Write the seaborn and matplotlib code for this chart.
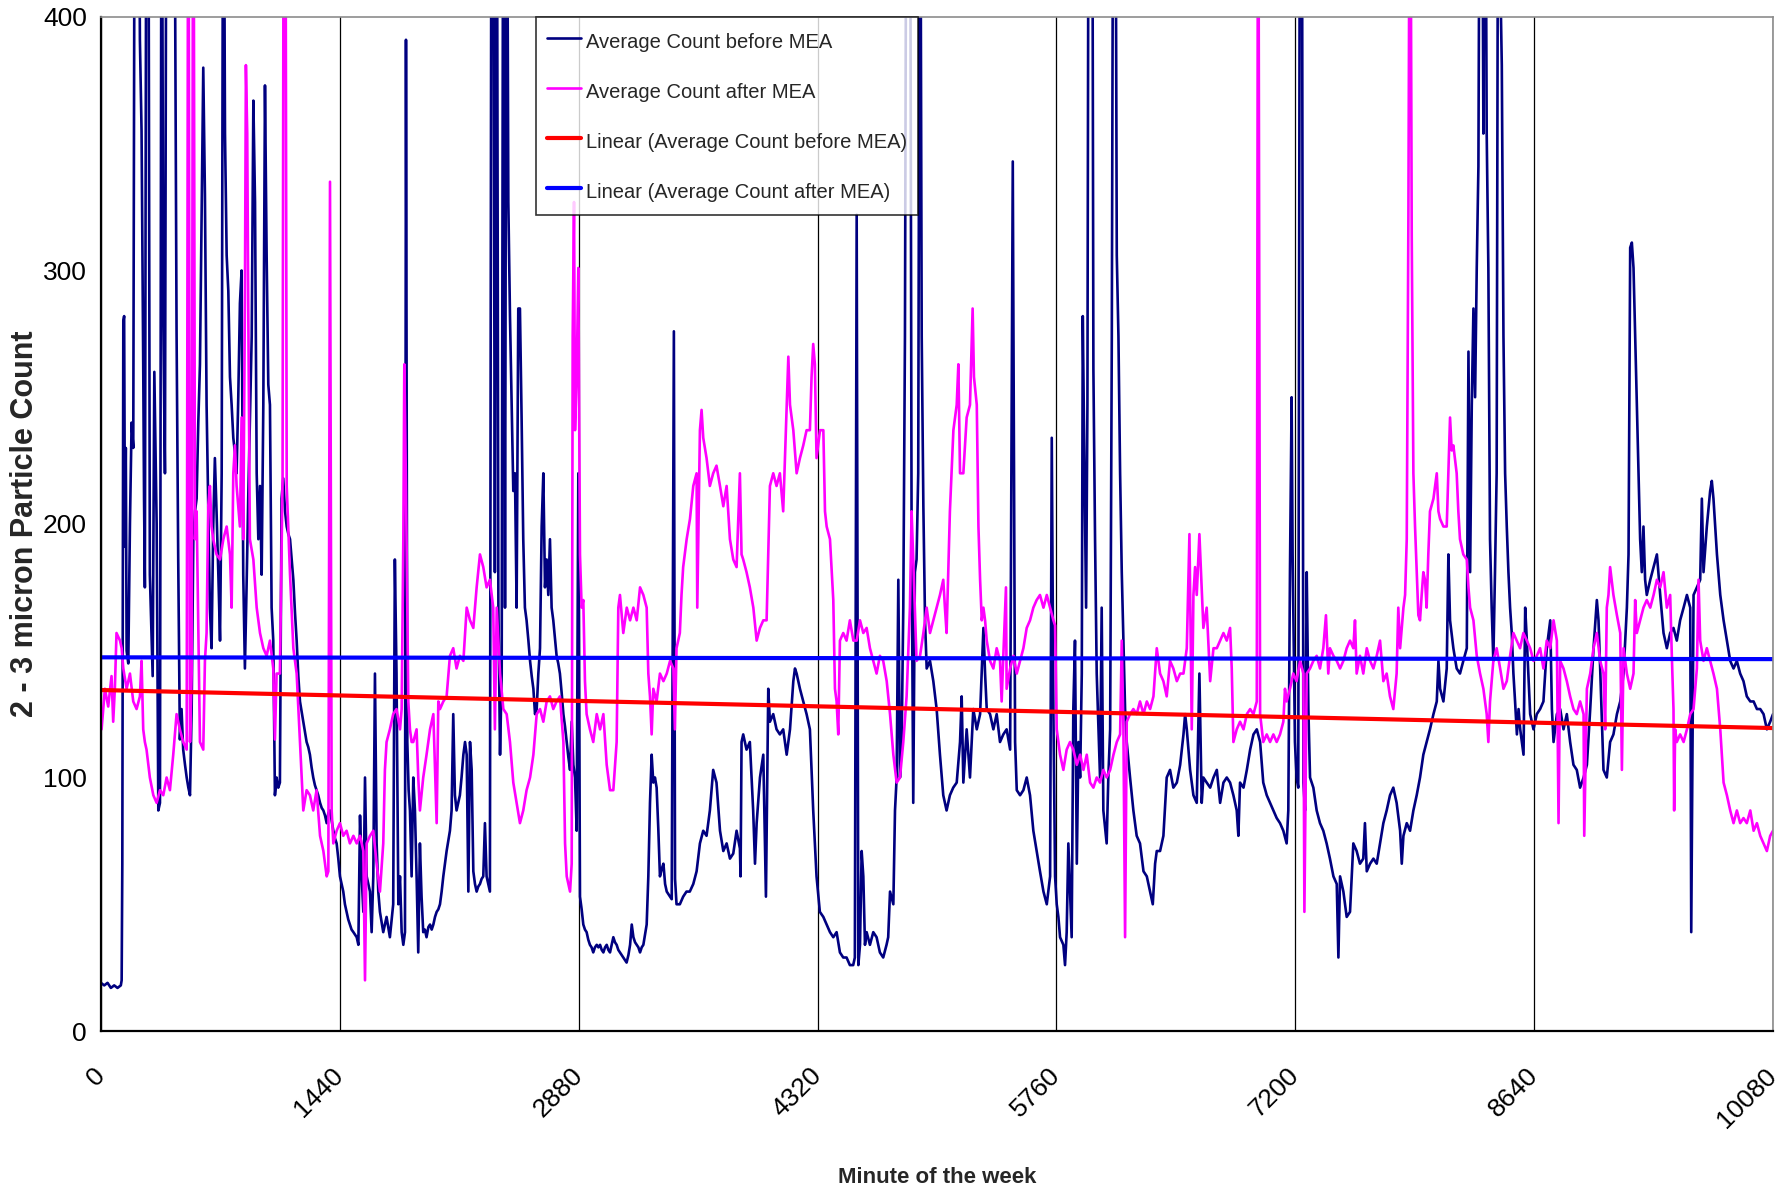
import numpy as np
import pandas as pd
import matplotlib
matplotlib.use("Agg")
import matplotlib.pyplot as plt
import seaborn as sns

# %% datos (minuto de la semana, conteo 2-3 micras)
before_minute = [
    0, 20, 40, 60, 80, 100, 120, 125, 129, 135,
    140, 145, 150, 155, 165, 175, 185, 195, 205, 215,
    225, 235, 245, 255, 260, 265, 275, 285, 291, 295,
    312, 322, 336, 346, 356, 366, 376, 386, 396, 420,
    440, 456, 466, 476, 486, 496, 507, 517, 527, 537,
    547, 557, 567, 577, 587, 597, 607, 617, 627, 637,
    647, 657, 667, 677, 687, 697, 708, 718, 728, 738,
    748, 758, 768, 778, 788, 798, 808, 818, 828, 838,
    848, 858, 868, 878, 888, 898, 909, 919, 929, 939,
    949, 959, 969, 979, 989, 999, 1009, 1019, 1029, 1039,
    1049, 1059, 1069, 1079, 1089, 1099, 1110, 1120, 1130, 1140,
    1150, 1160, 1170, 1180, 1190, 1200, 1210, 1220, 1230, 1240,
    1250, 1260, 1270, 1280, 1290, 1300, 1310, 1321, 1331, 1341,
    1351, 1361, 1371, 1381, 1391, 1401, 1411, 1421, 1431, 1441,
    1451, 1461, 1471, 1481, 1491, 1501, 1511, 1522, 1532, 1542,
    1552, 1562, 1572, 1582, 1592, 1602, 1612, 1622, 1632, 1642,
    1652, 1662, 1672, 1682, 1702, 1722, 1742, 1762, 1772, 1782,
    1793, 1803, 1813, 1823, 1833, 1839, 1847, 1855, 1863, 1873,
    1883, 1893, 1903, 1913, 1923, 1933, 1943, 1953, 1963, 1974,
    1984, 1994, 2004, 2014, 2024, 2034, 2044, 2054, 2064, 2074,
    2084, 2094, 2104, 2114, 2124, 2134, 2144, 2154, 2164, 2174,
    2185, 2195, 2205, 2215, 2225, 2235, 2245, 2255, 2265, 2275,
    2285, 2295, 2305, 2315, 2325, 2335, 2345, 2355, 2365, 2375,
    2386, 2396, 2406, 2416, 2426, 2436, 2446, 2456, 2466, 2476,
    2486, 2496, 2506, 2516, 2526, 2536, 2546, 2556, 2566, 2577,
    2587, 2597, 2607, 2617, 2627, 2637, 2647, 2657, 2667, 2677,
    2687, 2697, 2707, 2717, 2727, 2737, 2747, 2757, 2767, 2778,
    2788, 2798, 2808, 2818, 2828, 2838, 2848, 2858, 2868, 2878,
    2888, 2898, 2908, 2918, 2928, 2938, 2948, 2958, 2968, 2978,
    2989, 2999, 3009, 3019, 3029, 3039, 3049, 3059, 3069, 3079,
    3089, 3099, 3109, 3119, 3129, 3139, 3149, 3159, 3169, 3180,
    3190, 3200, 3210, 3220, 3230, 3240, 3250, 3260, 3270, 3280,
    3290, 3300, 3310, 3320, 3330, 3340, 3350, 3360, 3370, 3381,
    3391, 3401, 3411, 3421, 3431, 3441, 3454, 3461, 3470, 3490,
    3510, 3530, 3550, 3571, 3591, 3611, 3631, 3651, 3671, 3691,
    3711, 3732, 3752, 3772, 3792, 3812, 3832, 3852, 3856, 3862,
    3872, 3892, 3912, 3932, 3943, 3953, 3973, 3993, 4009, 4023,
    4033, 4053, 4073, 4093, 4113, 4134, 4154, 4174, 4184, 4194,
    4214, 4234, 4254, 4274, 4294, 4314, 4334, 4355, 4375, 4395,
    4415, 4435, 4455, 4475, 4495, 4515, 4535, 4545, 4556, 4566,
    4576, 4586, 4596, 4606, 4616, 4636, 4656, 4676, 4696, 4716,
    4736, 4746, 4757, 4777, 4787, 4797, 4807, 4817, 4827, 4837,
    4847, 4857, 4867, 4877, 4887, 4897, 4907, 4917, 4927, 4938,
    4948, 4958, 4968, 4978, 4998, 5018, 5038, 5058, 5078, 5098,
    5118, 5138, 5159, 5179, 5189, 5199, 5219, 5239, 5259, 5280,
    5300, 5320, 5330, 5340, 5360, 5380, 5400, 5420, 5440, 5460,
    5481, 5497, 5511, 5521, 5541, 5561, 5581, 5601, 5621, 5641,
    5661, 5682, 5702, 5722, 5732, 5742, 5752, 5762, 5772, 5782,
    5802, 5812, 5822, 5832, 5842, 5852, 5862, 5872, 5883, 5893,
    5903, 5913, 5919, 5927, 5939, 5947, 5955, 5967, 5975, 5983,
    5993, 6003, 6023, 6033, 6043, 6063, 6073, 6084, 6094, 6104,
    6114, 6124, 6134, 6144, 6154, 6164, 6174, 6184, 6204, 6224,
    6244, 6264, 6285, 6305, 6325, 6341, 6355, 6365, 6385, 6405,
    6425, 6445, 6465, 6486, 6506, 6526, 6536, 6546, 6566, 6586,
    6606, 6622, 6636, 6646, 6666, 6687, 6707, 6727, 6747, 6767,
    6787, 6807, 6827, 6847, 6857, 6867, 6888, 6908, 6928, 6948,
    6968, 6988, 7007, 7028, 7048, 7068, 7088, 7108, 7128, 7148,
    7158, 7168, 7178, 7184, 7198, 7208, 7218, 7229, 7239, 7249,
    7259, 7269, 7279, 7289, 7309, 7329, 7349, 7369, 7389, 7409,
    7430, 7450, 7460, 7470, 7490, 7510, 7530, 7550, 7570, 7590,
    7610, 7620, 7631, 7651, 7671, 7691, 7711, 7731, 7751, 7771,
    7791, 7811, 7832, 7842, 7852, 7872, 7892, 7912, 7932, 7952,
    7972, 7992, 8012, 8033, 8053, 8063, 8073, 8093, 8113, 8123,
    8133, 8153, 8173, 8193, 8213, 8234, 8244, 8254, 8264, 8274,
    8284, 8294, 8304, 8314, 8324, 8334, 8344, 8354, 8364, 8374,
    8384, 8394, 8404, 8414, 8424, 8440, 8445, 8455, 8465, 8475,
    8485, 8495, 8505, 8515, 8525, 8536, 8546, 8556, 8566, 8576,
    8586, 8596, 8616, 8636, 8656, 8676, 8696, 8716, 8737, 8747,
    8757, 8777, 8797, 8817, 8837, 8857, 8877, 8897, 8917, 8938,
    8958, 8978, 8998, 9018, 9028, 9038, 9058, 9078, 9098, 9118,
    9139, 9159, 9179, 9199, 9209, 9219, 9229, 9239, 9249, 9259,
    9269, 9279, 9289, 9299, 9309, 9319, 9340, 9360, 9380, 9400,
    9420, 9440, 9460, 9480, 9500, 9520, 9541, 9561, 9581, 9587,
    9601, 9621, 9641, 9651, 9661, 9681, 9701, 9711, 9721, 9742,
    9762, 9782, 9802, 9822, 9842, 9862, 9882, 9902, 9922, 9943,
    9963, 9983, 10003, 10023, 10043, 10063, 10080,
]
before_count = [
    19, 18, 19, 17, 18, 17, 18, 20, 66, 280,
    282, 191, 230, 150, 145, 200, 240, 230, 520, 520,
    520, 391, 355, 263, 210, 175, 520, 520, 314, 180,
    140, 260, 200, 87, 90, 520, 280, 220, 520, 520,
    520, 276, 186, 115, 127, 111, 105, 100, 96, 93,
    127, 194, 205, 210, 240, 263, 320, 380, 330, 247,
    207, 167, 151, 199, 226, 205, 180, 154, 220, 520,
    354, 306, 292, 258, 247, 234, 228, 220, 250, 287,
    300, 180, 143, 175, 210, 240, 274, 367, 327, 220,
    194, 215, 180, 247, 373, 306, 255, 247, 167, 154,
    93, 100, 96, 98, 210, 218, 205, 199, 196, 194,
    186, 178, 165, 154, 140, 130, 126, 122, 118, 114,
    112, 109, 104, 100, 97, 95, 93, 90, 88, 87,
    85, 82, 86, 87, 83, 79, 76, 74, 68, 61,
    58, 55, 50, 47, 44, 42, 40, 39, 38, 37,
    34, 85, 61, 47, 100, 61, 58, 55, 39, 61,
    141, 74, 55, 47, 39, 45, 37, 50, 186, 141,
    50, 61, 39, 34, 39, 391, 114, 95, 87, 61,
    100, 87, 61, 31, 74, 53, 39, 40, 37, 41,
    42, 40, 42, 45, 47, 48, 50, 55, 61, 66,
    71, 75, 79, 87, 125, 93, 87, 90, 93, 100,
    109, 114, 109, 55, 114, 103, 63, 58, 55, 57,
    58, 60, 61, 82, 61, 58, 55, 520, 480, 181,
    520, 167, 109, 141, 520, 167, 520, 327, 282, 247,
    213, 220, 167, 285, 285, 242, 194, 167, 162, 154,
    146, 140, 135, 125, 127, 141, 151, 199, 220, 175,
    186, 172, 194, 167, 162, 155, 148, 145, 141, 133,
    125, 120, 114, 108, 103, 122, 105, 100, 79, 220,
    53, 48, 42, 40, 39, 36, 34, 33, 31, 33,
    34, 33, 34, 32, 31, 33, 34, 32, 31, 34,
    37, 35, 34, 32, 31, 30, 29, 28, 27, 30,
    34, 42, 37, 35, 34, 33, 31, 33, 34, 38,
    42, 61, 90, 109, 98, 100, 96, 80, 61, 64,
    66, 58, 55, 54, 53, 52, 276, 60, 50, 50,
    53, 55, 55, 58, 63, 74, 79, 77, 87, 103,
    98, 79, 71, 74, 68, 70, 79, 72, 61, 114,
    117, 111, 114, 87, 66, 82, 100, 109, 53, 135,
    122, 125, 119, 117, 119, 109, 119, 138, 143, 141,
    135, 130, 125, 119, 87, 61, 47, 45, 42, 39,
    37, 39, 31, 29, 29, 26, 26, 29, 322, 26,
    34, 71, 61, 34, 39, 34, 39, 37, 31, 29,
    34, 37, 55, 50, 87, 100, 178, 100, 114, 167,
    274, 520, 520, 520, 197, 90, 181, 186, 220, 520,
    274, 207, 162, 143, 146, 138, 127, 109, 93, 87,
    93, 96, 98, 114, 132, 98, 119, 100, 127, 119,
    125, 159, 141, 127, 125, 119, 125, 114, 117, 119,
    111, 343, 114, 95, 93, 95, 100, 93, 79, 71,
    63, 55, 50, 61, 234, 125, 61, 50, 45, 37,
    34, 26, 39, 74, 55, 37, 127, 154, 66, 114,
    100, 141, 282, 234, 167, 247, 520, 520, 520, 261,
    194, 141, 100, 167, 87, 74, 100, 119, 274, 520,
    520, 306, 274, 220, 181, 154, 127, 114, 100, 87,
    77, 74, 63, 61, 55, 50, 66, 71, 71, 77,
    100, 103, 96, 98, 105, 117, 125, 119, 103, 93,
    90, 141, 90, 100, 98, 96, 100, 103, 90, 98,
    100, 98, 93, 87, 77, 98, 96, 103, 111, 117,
    119, 114, 98, 93, 90, 87, 84, 82, 79, 74,
    87, 181, 250, 188, 114, 100, 96, 520, 520, 98,
    87, 181, 127, 100, 96, 87, 82, 79, 74, 68,
    61, 58, 29, 61, 55, 45, 47, 74, 71, 66,
    68, 82, 63, 66, 68, 66, 74, 82, 87, 93,
    96, 90, 79, 66, 77, 82, 79, 87, 93, 100,
    109, 114, 119, 125, 130, 146, 135, 130, 143, 188,
    162, 151, 143, 141, 146, 151, 268, 181, 247, 285,
    250, 301, 341, 520, 520, 354, 520, 354, 301, 194,
    167, 146, 181, 220, 520, 400, 381, 274, 220, 199,
    181, 167, 157, 141, 130, 117, 127, 119, 114, 109,
    167, 154, 125, 119, 125, 127, 130, 151, 162, 127,
    114, 125, 127, 119, 125, 114, 105, 103, 96, 100,
    105, 127, 151, 170, 162, 143, 103, 100, 114, 117,
    125, 130, 141, 167, 188, 309, 311, 301, 274, 247,
    220, 194, 181, 199, 178, 172, 178, 183, 188, 172,
    157, 151, 157, 159, 154, 162, 167, 172, 167, 39,
    172, 175, 178, 210, 181, 199, 213, 217, 210, 188,
    172, 162, 154, 146, 143, 146, 141, 138, 132, 130,
    130, 127, 127, 125, 119, 122, 125,
]

after_minute = [
    4, 24, 44, 64, 74, 84, 94, 115, 125, 135,
    155, 175, 195, 215, 235, 245, 255, 265, 275, 295,
    316, 336, 356, 376, 396, 416, 436, 456, 476, 496,
    517, 527, 537, 547, 557, 567, 577, 597, 617, 627,
    637, 647, 657, 667, 677, 697, 718, 738, 758, 778,
    788, 798, 808, 818, 838, 848, 858, 868, 874, 882,
    888, 898, 919, 939, 959, 979, 999, 1019, 1039, 1049,
    1059, 1079, 1095, 1103, 1111, 1120, 1140, 1160, 1180, 1200,
    1220, 1240, 1260, 1280, 1300, 1321, 1341, 1361, 1371, 1381,
    1391, 1401, 1421, 1441, 1461, 1481, 1501, 1522, 1542, 1562,
    1582, 1592, 1602, 1622, 1642, 1662, 1682, 1702, 1712, 1722,
    1742, 1762, 1782, 1803, 1813, 1823, 1829, 1839, 1847, 1853,
    1863, 1873, 1883, 1903, 1913, 1923, 1943, 1963, 1984, 2004,
    2024, 2034, 2044, 2064, 2084, 2104, 2124, 2144, 2164, 2185,
    2205, 2225, 2245, 2265, 2285, 2305, 2325, 2345, 2365, 2375,
    2386, 2406, 2426, 2446, 2466, 2486, 2506, 2526, 2546, 2566,
    2587, 2607, 2627, 2647, 2667, 2687, 2707, 2727, 2747, 2767,
    2788, 2798, 2808, 2818, 2828, 2838, 2844, 2852, 2858, 2868,
    2878, 2888, 2898, 2908, 2918, 2928, 2948, 2968, 2989, 3009,
    3029, 3049, 3069, 3089, 3109, 3119, 3129, 3149, 3170, 3190,
    3210, 3230, 3250, 3270, 3290, 3300, 3310, 3320, 3330, 3350,
    3370, 3391, 3411, 3431, 3451, 3460, 3470, 3490, 3500, 3510,
    3531, 3551, 3571, 3591, 3595, 3611, 3621, 3631, 3651, 3671,
    3691, 3711, 3732, 3752, 3772, 3792, 3812, 3832, 3852, 3862,
    3872, 3892, 3912, 3933, 3953, 3973, 3993, 4013, 4033, 4053,
    4073, 4093, 4113, 4134, 4144, 4154, 4174, 4194, 4214, 4234,
    4254, 4274, 4284, 4294, 4304, 4314, 4335, 4355, 4365, 4375,
    4395, 4415, 4425, 4435, 4445, 4455, 4475, 4495, 4515, 4536,
    4556, 4576, 4596, 4616, 4636, 4656, 4676, 4696, 4716, 4737,
    4757, 4777, 4797, 4817, 4837, 4857, 4877, 4887, 4897, 4917,
    4938, 4958, 4978, 4998, 5018, 5038, 5058, 5078, 5088, 5098,
    5118, 5139, 5159, 5169, 5179, 5199, 5219, 5239, 5255, 5263,
    5280, 5290, 5300, 5310, 5320, 5330, 5340, 5360, 5380, 5400,
    5420, 5430, 5440, 5456, 5460, 5481, 5501, 5521, 5541, 5561,
    5581, 5601, 5621, 5641, 5661, 5682, 5702, 5722, 5742, 5752,
    5762, 5782, 5802, 5822, 5842, 5862, 5883, 5903, 5923, 5943,
    5963, 5983, 6003, 6023, 6043, 6063, 6084, 6104, 6124, 6144,
    6154, 6164, 6174, 6184, 6204, 6224, 6244, 6264, 6285, 6305,
    6325, 6345, 6365, 6385, 6405, 6425, 6445, 6465, 6486, 6506,
    6526, 6546, 6562, 6576, 6586, 6596, 6606, 6622, 6636, 6646,
    6666, 6687, 6707, 6727, 6747, 6767, 6787, 6807, 6817, 6827,
    6847, 6867, 6888, 6908, 6928, 6948, 6968, 6976, 6988, 7007,
    7028, 7048, 7068, 7088, 7108, 7128, 7138, 7148, 7168, 7188,
    7208, 7229, 7249, 7255, 7269, 7289, 7309, 7329, 7349, 7369,
    7385, 7399, 7409, 7430, 7450, 7470, 7490, 7510, 7530, 7550,
    7560, 7570, 7590, 7610, 7631, 7651, 7671, 7691, 7711, 7731,
    7751, 7771, 7791, 7811, 7821, 7832, 7852, 7862, 7872, 7882,
    7892, 7902, 7912, 7922, 7932, 7942, 7952, 7962, 7972, 7982,
    7992, 8002, 8012, 8033, 8043, 8053, 8063, 8073, 8093, 8113,
    8123, 8133, 8143, 8153, 8173, 8183, 8193, 8213, 8234, 8244,
    8254, 8274, 8294, 8314, 8334, 8354, 8364, 8374, 8394, 8414,
    8435, 8455, 8475, 8495, 8515, 8535, 8555, 8575, 8596, 8616,
    8636, 8656, 8676, 8696, 8716, 8737, 8757, 8777, 8787, 8797,
    8817, 8837, 8857, 8877, 8897, 8917, 8938, 8942, 8958, 8978,
    8998, 9018, 9038, 9058, 9068, 9078, 9088, 9098, 9118, 9139,
    9159, 9169, 9179, 9199, 9219, 9239, 9249, 9259, 9279, 9299,
    9319, 9340, 9360, 9380, 9400, 9420, 9440, 9460, 9470, 9480,
    9484, 9490, 9500, 9520, 9541, 9561, 9581, 9601, 9621, 9631,
    9641, 9661, 9681, 9701, 9721, 9742, 9762, 9782, 9802, 9822,
    9842, 9862, 9882, 9902, 9922, 9943, 9963, 9983, 10003, 10023,
    10043, 10063, 10080,
]
after_count = [
    119, 135, 128, 140, 122, 135, 157, 154, 151, 143,
    135, 141, 130, 127, 132, 146, 119, 114, 111, 100,
    93, 90, 95, 93, 100, 95, 109, 125, 119, 114,
    111, 520, 114, 141, 520, 194, 205, 114, 111, 146,
    157, 207, 215, 199, 194, 188, 186, 194, 199, 188,
    167, 220, 231, 215, 199, 242, 194, 287, 381, 354,
    287, 194, 186, 167, 157, 151, 148, 154, 143, 115,
    141, 141, 218, 520, 520, 215, 180, 151, 141, 114,
    87, 95, 93, 87, 95, 77, 71, 61, 63, 335,
    87, 74, 79, 82, 77, 79, 74, 77, 74, 77,
    71, 20, 74, 77, 79, 66, 55, 74, 103, 114,
    119, 125, 127, 119, 127, 194, 263, 215, 167, 130,
    119, 114, 114, 119, 100, 87, 100, 109, 119, 125,
    82, 130, 127, 130, 132, 148, 151, 143, 148, 146,
    167, 162, 159, 175, 188, 183, 175, 178, 167, 119,
    167, 141, 127, 125, 114, 98, 90, 82, 87, 95,
    100, 109, 125, 127, 122, 130, 132, 127, 130, 132,
    114, 74, 61, 58, 55, 66, 274, 327, 237, 258,
    301, 188, 167, 170, 138, 125, 119, 114, 125, 119,
    125, 105, 95, 95, 114, 167, 172, 157, 167, 162,
    167, 162, 175, 172, 167, 141, 132, 117, 135, 130,
    141, 138, 141, 146, 143, 119, 151, 157, 172, 183,
    194, 202, 215, 220, 167, 237, 245, 234, 226, 215,
    220, 223, 215, 207, 215, 194, 186, 183, 220, 188,
    186, 181, 175, 167, 154, 159, 162, 162, 215, 220,
    215, 220, 205, 247, 266, 247, 237, 220, 226, 231,
    237, 237, 258, 271, 263, 226, 237, 237, 205, 199,
    194, 170, 135, 130, 117, 154, 157, 154, 162, 154,
    154, 162, 157, 159, 151, 146, 141, 148, 146, 138,
    125, 109, 98, 100, 114, 132, 167, 205, 186, 146,
    148, 157, 167, 157, 162, 167, 172, 178, 167, 157,
    205, 237, 247, 263, 220, 220, 242, 247, 285, 258,
    247, 199, 178, 162, 167, 162, 154, 146, 143, 151,
    146, 130, 148, 175, 135, 143, 148, 141, 146, 151,
    159, 162, 167, 170, 172, 167, 172, 167, 162, 160,
    119, 109, 103, 111, 114, 111, 105, 109, 103, 109,
    98, 96, 100, 98, 103, 100, 103, 109, 114, 117,
    154, 119, 37, 122, 125, 127, 125, 130, 125, 130,
    127, 132, 151, 141, 138, 132, 146, 143, 138, 141,
    141, 151, 196, 119, 172, 183, 172, 196, 175, 159,
    167, 138, 151, 151, 154, 157, 154, 159, 143, 114,
    119, 122, 119, 125, 127, 125, 130, 520, 125, 114,
    117, 114, 117, 114, 117, 122, 135, 130, 135, 141,
    138, 146, 141, 47, 141, 143, 146, 148, 143, 151,
    164, 141, 151, 148, 146, 143, 146, 151, 154, 151,
    162, 141, 148, 141, 151, 146, 143, 148, 154, 138,
    141, 132, 127, 141, 167, 151, 167, 172, 194, 322,
    520, 314, 220, 199, 181, 164, 162, 172, 181, 178,
    167, 188, 205, 210, 215, 220, 205, 202, 199, 199,
    220, 242, 229, 231, 220, 205, 194, 188, 186, 175,
    167, 162, 148, 141, 135, 125, 114, 130, 146, 151,
    143, 135, 138, 148, 157, 154, 151, 157, 154, 151,
    146, 148, 151, 143, 154, 151, 162, 154, 82, 146,
    143, 138, 132, 127, 125, 130, 125, 77, 135, 141,
    151, 157, 146, 141, 119, 167, 172, 183, 172, 164,
    157, 103, 151, 141, 135, 141, 170, 157, 162, 167,
    170, 167, 172, 178, 175, 181, 167, 172, 148, 127,
    87, 119, 114, 117, 114, 119, 125, 127, 143, 178,
    154, 146, 151, 146, 141, 135, 119, 98, 93, 87,
    82, 87, 82, 84, 82, 87, 79, 82, 77, 74,
    71, 77, 79,
]

# lineas de tendencia (extremos)
trend_minute = [0, 10080]
trend_before = [134.5, 119.5]
trend_after = [147.4, 146.7]

labels = ["Average Count before MEA", "Average Count after MEA",
          "Linear (Average Count before MEA)", "Linear (Average Count after MEA)"]
week_ticks = [0, 1440, 2880, 4320, 5760, 7200, 8640, 10080]
y_ticks = [0, 100, 200, 300, 400]

df_before = pd.DataFrame({"minute": before_minute, "count": before_count})
df_after = pd.DataFrame({"minute": after_minute, "count": after_count})

# %% estilo
sns.set_style("white")
plt.rcParams['font.family'] = ['Liberation Sans', 'DejaVu Sans']

fig = plt.figure(figsize=(17.83, 11.94), dpi=100)
ax = fig.add_axes([0.0566, 0.1365, 0.9378, 0.8493])

sns.lineplot(data=df_before, x="minute", y="count", ax=ax, color="#000080",
             lw=1.9, estimator=None, label=labels[0])
sns.lineplot(data=df_after, x="minute", y="count", ax=ax, color="#FF00FF",
             lw=1.9, estimator=None, label=labels[1])
sns.lineplot(x=trend_minute, y=trend_before, ax=ax, color="#FF0000", lw=3,
             label=labels[2])
sns.lineplot(x=trend_minute, y=trend_after, ax=ax, color="#0000FF", lw=3,
             label=labels[3])

ax.set_xlim(0, 10080)
ax.set_ylim(0, 400)
ax.set_xticks(week_ticks)
ax.set_xticklabels([str(t) for t in week_ticks], rotation=45, ha="right",
                   va="center", rotation_mode="anchor", fontsize=19)
ax.set_yticks(y_ticks)
ax.set_yticklabels([str(t) for t in y_ticks], fontsize=19)
ax.tick_params(axis="x", direction="out", length=6.5, width=1, pad=23, colors="black")
ax.tick_params(axis="y", direction="out", length=6, width=1, pad=4, colors="black")

ax.xaxis.grid(True, color="black", lw=0.9)
ax.yaxis.grid(False)
ax.set_axisbelow(True)

for s in ["left", "bottom"]:
    ax.spines[s].set_color("black")
    ax.spines[s].set_linewidth(1.6)
for s in ["top", "right"]:
    ax.spines[s].set_color("#8C8C8C")
    ax.spines[s].set_linewidth(1.2)

ax.set_xlabel("Minute of the week", fontsize=16, fontweight="bold")
ax.set_ylabel("2 - 3 micron Particle Count", fontsize=22, fontweight="bold")
ax.xaxis.set_label_coords(0.5, -0.134)
ax.yaxis.set_label_coords(-0.0365, 0.5)

leg = ax.legend(loc="upper left", bbox_to_anchor=(0.26, 1.0), borderaxespad=0,
                fontsize=14.5, frameon=True, fancybox=False, edgecolor="black",
                handlelength=1.7, handleheight=1.6, handletextpad=0.25,
                labelspacing=1.2, borderpad=0.55)
leg.get_frame().set_linewidth(1.2)

fig.savefig("out.png", dpi=100)
